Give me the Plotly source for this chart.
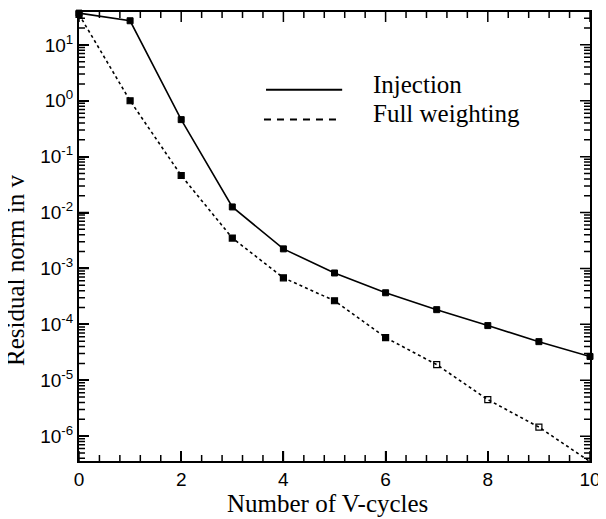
import math
import plotly.graph_objects as go

cycles = [0, 1, 2, 3, 4, 5, 6, 7, 8, 9, 10]
injection = [37, 27, 0.46, 0.0126, 0.00224, 8.3e-4, 3.67e-4, 1.83e-4, 9.5e-5, 4.9e-5, 2.66e-5]
full_weighting = [35, 1.0, 0.046, 0.0035, 6.8e-4, 2.64e-4, 5.8e-5, 1.9e-5, 4.5e-6, 1.45e-6, 3.5e-7]
fw_symbols = ["square"] * 7 + ["square-open"] * 3 + ["square"]
xtick_vals = [0, 2, 4, 6, 8, 10]
ytick_vals = [1e-6, 1e-5, 1e-4, 1e-3, 1e-2, 1e-1, 1e0, 1e1]
ytick_text = ["10<sup>-6</sup>", "10<sup>-5</sup>", "10<sup>-4</sup>", "10<sup>-3</sup>",
              "10<sup>-2</sup>", "10<sup>-1</sup>", "10<sup>0</sup>", "10<sup>1</sup>"]
legend_names = ["Injection", "Full weighting"]

SERIF = "Liberation Serif, Times New Roman, serif"
SANS = "Liberation Sans, Arial, sans-serif"

X_RANGE = [0, 10]
Y_LOG_RANGE = [-6.445, 1.588]
PLOT_W, PLOT_H = 511, 451

# minor tick positions (axis furniture, not data)
x_minor = [i * 0.4 for i in range(1, 25) if i % 5 != 0]
y_minor = [k * 10.0 ** d for d in range(-7, 2) for k in range(2, 10)
           if Y_LOG_RANGE[0] < d + math.log10(k) < Y_LOG_RANGE[1]]

fig = go.Figure()
fig.add_trace(go.Scatter(
    x=cycles, y=injection, mode="lines+markers", name=legend_names[0],
    line=dict(color="black", width=1.6, dash="solid"),
    marker=dict(symbol="square", size=6, color="black", line=dict(color="black", width=1)),
    cliponaxis=False, showlegend=False))
fig.add_trace(go.Scatter(
    x=cycles, y=full_weighting, mode="lines+markers", name=legend_names[1],
    line=dict(color="black", width=1.6, dash="dot"),
    marker=dict(symbol=fw_symbols, size=6, color="black", line=dict(color="black", width=1.2)),
    cliponaxis=False, showlegend=False))

# page body adds an 8px margin; figure is shrunk so the plot area lands where the reference has it
fig.update_layout(
    width=598, height=511,
    margin=dict(l=71, r=16, t=2, b=58),
    paper_bgcolor="white", plot_bgcolor="white",
    font=dict(family=SANS, size=19, color="black"),
    showlegend=False,
)
fig.update_xaxes(
    range=X_RANGE, tickmode="array", tickvals=xtick_vals,
    ticks="inside", ticklen=10, tickwidth=1.5, tickcolor="black",
    showline=True, linecolor="black", linewidth=2, mirror=True,
    showgrid=False, zeroline=False,
    tickfont=dict(family=SANS, size=19, color="black"),
)
fig.update_yaxes(
    type="log", range=Y_LOG_RANGE,
    tickmode="array", tickvals=ytick_vals, ticktext=ytick_text,
    ticks="inside", ticklen=10, tickwidth=1.5, tickcolor="black",
    showline=True, linecolor="black", linewidth=2, mirror=True,
    showgrid=False, zeroline=False,
    tickfont=dict(family=SANS, size=19, color="black"),
)

# tick marks on all four sides, drawn as one SVG path shape in paper coordinates
def fx(v):
    return (v - X_RANGE[0]) / (X_RANGE[1] - X_RANGE[0])
def fy(v):
    return (math.log10(v) - Y_LOG_RANGE[0]) / (Y_LOG_RANGE[1] - Y_LOG_RANGE[0])

segs = []
for vals, length in ((xtick_vals, 10), (x_minor, 6)):
    ly = length / PLOT_H
    for v in vals:
        x = fx(v)
        segs.append(f"M{x:.5f},0 L{x:.5f},{ly:.5f}")
        segs.append(f"M{x:.5f},1 L{x:.5f},{1 - ly:.5f}")
for vals, length in ((ytick_vals, 10), (y_minor, 6)):
    lx = length / PLOT_W
    for v in vals:
        y = fy(v)
        segs.append(f"M0,{y:.5f} L{lx:.5f},{y:.5f}")
        segs.append(f"M1,{y:.5f} L{1 - lx:.5f},{y:.5f}")

fig.add_shape(type="path", xref="paper", yref="paper", path=" ".join(segs),
              line=dict(color="black", width=1.5), layer="above")

fig.add_annotation(text="Number of V-cycles", xref="paper", yref="paper", x=0.486, y=-0.095,
                   xanchor="center", yanchor="middle", showarrow=False,
                   font=dict(family=SERIF, size=25, color="black"))
fig.add_annotation(text="Residual norm in v", xref="paper", yref="paper", x=-0.123, y=0.4235,
                   xanchor="center", yanchor="middle", textangle=-90, showarrow=False,
                   font=dict(family=SERIF, size=25, color="black"))

fig.add_shape(type="line", xref="paper", yref="paper", x0=0.366, x1=0.515, y0=0.827, y1=0.827,
              line=dict(color="black", width=2, dash="solid"))
fig.add_shape(type="line", xref="paper", yref="paper", x0=0.362, x1=0.507, y0=0.7605, y1=0.7605,
              line=dict(color="black", width=2, dash="7px,6px"))
fig.add_annotation(text=legend_names[0], xref="paper", yref="paper", x=0.571, y=0.838,
                   xanchor="left", yanchor="middle", showarrow=False,
                   font=dict(family=SERIF, size=25, color="black"))
fig.add_annotation(text=legend_names[1], xref="paper", yref="paper", x=0.571, y=0.773,
                   xanchor="left", yanchor="middle", showarrow=False,
                   font=dict(family=SERIF, size=25, color="black"))

fig.write_html("out.html")
